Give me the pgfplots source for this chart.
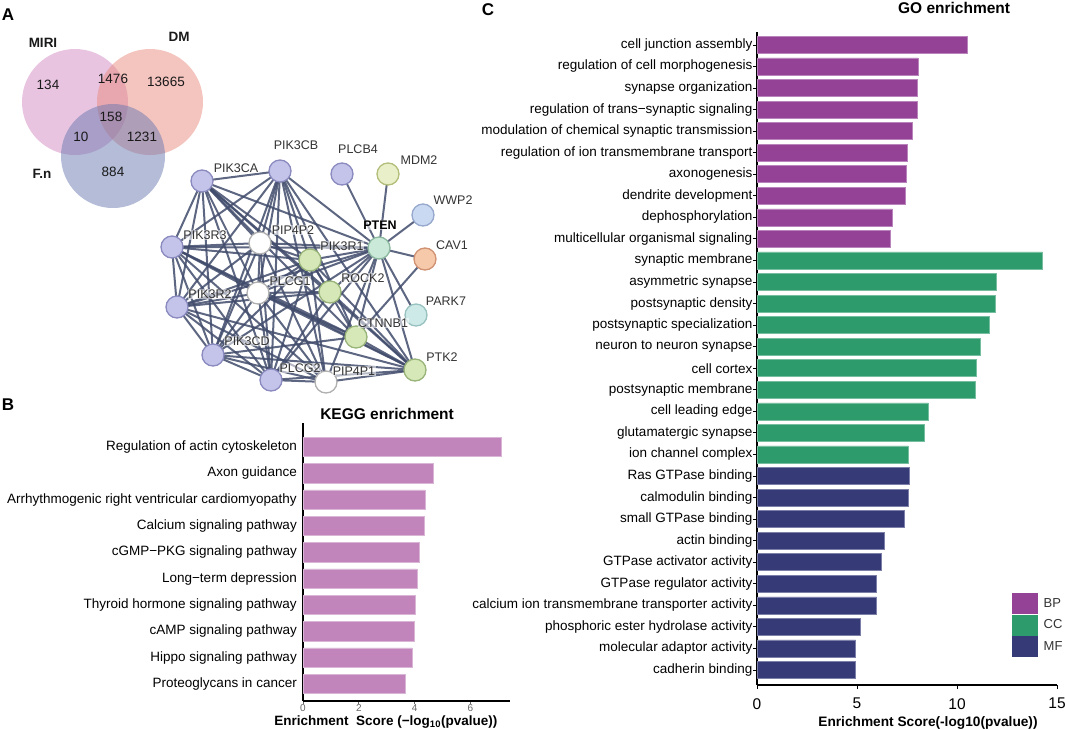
\documentclass[border=0pt]{standalone}
\usepackage{fontspec}
\setmainfont{Liberation Sans}
\usepackage{pgfplots}
\pgfplotsset{compat=1.18}
\newcommand\fs[1]{\fontsize{#1}{#1}\selectfont}

\definecolor{bpc}{HTML}{944296}
\definecolor{ccc}{HTML}{2E9B6D}
\definecolor{mfc}{HTML}{363A77}
\definecolor{keggc}{HTML}{C285BB}
\definecolor{edgec}{HTML}{414C6C}
\definecolor{miri}{HTML}{D189C1}
\definecolor{dm}{HTML}{E9897F}
\definecolor{fn}{HTML}{6979B1}
% node colours (fill / border)
\definecolor{lavf}{HTML}{C4C4EA}\definecolor{lavd}{HTML}{8A8ABF}
\definecolor{whtf}{HTML}{FFFFFF}\definecolor{whtd}{HTML}{B0B0B0}
\definecolor{grnf}{HTML}{D6E8B8}\definecolor{grnd}{HTML}{98B478}
\definecolor{ylwf}{HTML}{E9EFC8}\definecolor{ylwd}{HTML}{B2BE7A}
\definecolor{bluf}{HTML}{C9D9F1}\definecolor{blud}{HTML}{96A8CC}
\definecolor{mntf}{HTML}{CBE9D9}\definecolor{mntd}{HTML}{8CB8A0}
\definecolor{pchf}{HTML}{F5C9A9}\definecolor{pchd}{HTML}{D09272}
\definecolor{cynf}{HTML}{CDE9E8}\definecolor{cynd}{HTML}{98C2C0}

% network node positions (pixels)
\def\N#1#2#3{\expandafter\def\csname nx#1\endcsname{#2}\expandafter\def\csname ny#1\endcsname{#3}}
\N{PIK3CA}{202}{181}
\N{PIK3CB}{280}{171}
\N{PLCB4}{342}{174}
\N{MDM2}{388}{174}
\N{WWP2}{423}{215}
\N{PTEN}{379}{248}
\N{CAV1}{425}{259}
\N{PARK7}{416}{315}
\N{PTK2}{415}{370}
\N{CTNNB1}{356}{337}
\N{ROCK2}{330}{292}
\N{PIK3R1}{310}{260}
\N{PIP4P2}{260}{243}
\N{PIK3R3}{172}{247}
\N{PLCG1}{258}{293}
\N{PIK3R2}{177}{307}
\N{PIK3CD}{213}{355}
\N{PLCG2}{271}{380}
\N{PIP4P1}{326}{382}

\pgfplotsset{pixelaxis/.style={at={(0pt,0pt)}, anchor=north west, width=1065pt, height=730pt,
  scale only axis, xmin=0, xmax=1065, ymin=0, ymax=730, y dir=reverse,
  hide axis, clip=false}}

\begin{document}
\begin{tikzpicture}
\path[use as bounding box] (0pt,0pt) rectangle (1065pt,-730pt);

% ---------- panel A (Venn + network), shapes ----------
\begin{axis}[pixelaxis]
\addplot[miri, only marks, mark=*, mark size=53, mark options={draw opacity=0, fill opacity=0.5}] coordinates {(75,102)};
\addplot[dm, only marks, mark=*, mark size=53, mark options={draw opacity=0, fill opacity=0.5}] coordinates {(150,102)};
\addplot[fn, only marks, mark=*, mark size=52, mark options={draw opacity=0, fill opacity=0.5}] coordinates {(113,156)};

\foreach \a/\b in {PTEN/PLCB4, PTEN/MDM2, PTEN/WWP2, PTEN/CAV1, PTEN/PARK7, PTEN/PTK2,
  PTEN/CTNNB1, PTEN/ROCK2, PTEN/PIK3R1, PTEN/PIP4P2, PTEN/PIK3R3, PTEN/PIK3CA, PTEN/PIK3CB,
  PTEN/PLCG1, PTEN/PIK3R2, PTEN/PIK3CD, PTEN/PLCG2, PTEN/PIP4P1,
  PIK3CA/PIK3CB, PIK3CA/PIK3R3, PIK3CA/PIK3R2, PIK3CA/PIK3CD, PIK3CA/PLCG2, PIK3CA/PIK3R1,
  PIK3CA/PIP4P2, PIK3CA/PLCG1, PIK3CA/ROCK2, PIK3CA/CTNNB1, PIK3CA/PTK2,
  PIK3CB/PIK3R3, PIK3CB/PIK3R2, PIK3CB/PIK3CD, PIK3CB/PLCG2, PIK3CB/PIK3R1, PIK3CB/PIP4P2,
  PIK3CB/PLCG1, PIK3CB/PIP4P1, PIK3CB/PTK2, PIK3CB/CTNNB1,
  PIK3R3/PIK3R2, PIK3R3/PIK3CD, PIK3R3/PLCG2, PIK3R3/PIK3R1, PIK3R3/PIP4P2, PIK3R3/PLCG1,
  PIK3R3/PIP4P1, PIK3R3/CTNNB1, PIK3R3/PTK2,
  PIK3R2/PIK3CD, PIK3R2/PLCG2, PIK3R2/PIK3R1, PIK3R2/PIP4P2, PIK3R2/PLCG1, PIK3R2/PIP4P1,
  PIK3R2/ROCK2, PIK3R2/PTK2,
  PIK3CD/PLCG2, PIK3CD/PIK3R1, PIK3CD/PIP4P2, PIK3CD/PLCG1, PIK3CD/PIP4P1, PIK3CD/PTK2, PIK3CD/CTNNB1,
  PLCG2/PIK3R1, PLCG2/PIP4P2, PLCG2/PLCG1, PLCG2/PIP4P1, PLCG2/PTK2, PLCG2/ROCK2,
  PIK3R1/PIP4P2, PIK3R1/PLCG1, PIK3R1/ROCK2, PIK3R1/CTNNB1, PIK3R1/PTK2, PIK3R1/PIP4P1,
  PIP4P2/PLCG1, PIP4P2/PIP4P1, PLCG1/PIP4P1, PLCG1/PTK2, PLCG1/CTNNB1, PLCG1/ROCK2,
  ROCK2/PTK2, CTNNB1/PTK2, PIP4P1/PTK2, CAV1/CTNNB1}{
  \edef\tmp{\noexpand\addplot[edgec, line width=2pt, opacity=0.85, no marks]
    coordinates {(\csname nx\a\endcsname,\csname ny\a\endcsname)
                 (\csname nx\b\endcsname,\csname ny\b\endcsname)};}
  \tmp
}

\foreach \n/\c in {PIK3CA/lav, PIK3CB/lav, PLCB4/lav, PIK3R3/lav, PIK3R2/lav, PIK3CD/lav,
  PLCG2/lav, PIP4P2/wht, PLCG1/wht, PIP4P1/wht, PIK3R1/grn, ROCK2/grn, CTNNB1/grn, PTK2/grn,
  MDM2/ylw, WWP2/blu, PTEN/mnt, CAV1/pch, PARK7/cyn}{
  \edef\tmp{\noexpand\addplot[only marks, mark=*, mark size=11,
    mark options={fill=\c f, draw=\c d, line width=1.3pt}]
    coordinates {(\csname nx\n\endcsname,\csname ny\n\endcsname)};}
  \tmp
}
\end{axis}

% ---------- panel A, texts on top ----------
\begin{axis}[pixelaxis]
\begin{scope}[every node/.style={font=\fs{12.5}, text=black!80, fill=white,
    fill opacity=0.55, text opacity=1, inner sep=0.5pt}]
\node at (axis cs:236,168) {PIK3CA};
\node at (axis cs:296,145) {PIK3CB};
\node at (axis cs:358,149) {PLCB4};
\node at (axis cs:419,160) {MDM2};
\node at (axis cs:453,200) {WWP2};
\node[font=\fs{12.5}\bfseries, text=black] at (axis cs:380,225) {PTEN};
\node at (axis cs:452,245) {CAV1};
\node at (axis cs:446,301) {PARK7};
\node at (axis cs:442,357) {PTK2};
\node at (axis cs:383,323) {CTNNB1};
\node at (axis cs:363,278) {ROCK2};
\node at (axis cs:342,246) {PIK3R1};
\node at (axis cs:293,230) {PIP4P2};
\node at (axis cs:205,235) {PIK3R3};
\node at (axis cs:290,281) {PLCG1};
\node at (axis cs:210,294) {PIK3R2};
\node at (axis cs:247,341) {PIK3CD};
\node at (axis cs:300,368) {PLCG2};
\node at (axis cs:354,371) {PIP4P1};
\end{scope}

\begin{scope}[every node/.style={font=\fs{13.5}, text=black!90}]
\node[font=\fs{13.5}\bfseries] at (axis cs:43,43) {MIRI};
\node[font=\fs{13.5}\bfseries] at (axis cs:179,37) {DM};
\node[font=\fs{13.5}\bfseries] at (axis cs:42,174) {F.n};
\node at (axis cs:48,85) {134};
\node at (axis cs:113,79) {1476};
\node at (axis cs:166,82) {13665};
\node at (axis cs:111,117) {158};
\node at (axis cs:81,137) {10};
\node at (axis cs:142,137) {1231};
\node at (axis cs:113,172) {884};
\end{scope}

\node[font=\fs{17}\bfseries] at (axis cs:8,15) {A};
\node[font=\fs{17}\bfseries] at (axis cs:8,405) {B};
\node[font=\fs{17}\bfseries] at (axis cs:488,10) {C};
\end{axis}

% ---------- panel B (KEGG) ----------
\begin{axis}[at={(303pt,-423pt)}, anchor=north west, width=207pt, height=278pt,
  scale only axis, xmin=0, xmax=7.42, ymin=-0.65, ymax=9.91,
  xbar, bar width=19.3pt,
  axis x line*=bottom, axis y line*=left,
  axis line style={line width=1.8pt, black},
  xtick={0,2,4,6}, ytick={0,...,9},
  tick align=outside, major tick length=3pt,
  ytick style={draw=none}, xtick style={black!60, line width=0.6pt},
  /pgf/number format/assume math mode=true,
  xticklabel style={font=\fs{10}, text=black!60, inner sep=0.5pt},
  yticklabel style={font=\fs{13.5}, inner sep=0pt, xshift=-3pt},
  yticklabels={Proteoglycans in cancer, Hippo signaling pathway, cAMP signaling pathway,
    Thyroid hormone signaling pathway, Long−term depression, cGMP−PKG signaling pathway,
    Calcium signaling pathway, Arrhythmogenic right ventricular cardiomyopathy,
    Axon guidance, Regulation of actin cytoskeleton},
  title={KEGG enrichment},
  title style={font=\fs{15.5}\bfseries, at={(axis description cs:0.406,1)}, anchor=base, yshift=-2pt},
  xlabel={Enrichment\ \ Score (−log\textsubscript{10}(pvalue))},
  xlabel style={font=\fs{13.5}\bfseries, at={(axis description cs:0.40,0)}, anchor=base, yshift=-24pt},
  clip=false]
\addplot[fill=keggc, draw=keggc!60!white, line width=0.5pt, bar shift=0pt] coordinates {
  (3.67,0) (3.91,1) (3.97,2) (4.03,3) (4.09,4) (4.18,5) (4.33,6) (4.37,7) (4.66,8) (7.10,9)};
\end{axis}

% ---------- panel C (GO) ----------
\begin{axis}[at={(757pt,-32pt)}, anchor=north west, width=300pt, height=653pt,
  scale only axis, xmin=0, xmax=15, ymin=-0.7, ymax=29.6,
  xbar, bar width=17pt,
  axis x line*=bottom, axis y line*=left,
  axis line style={line width=1.8pt, black},
  xtick={0,5,10,15}, ytick={0,...,29},
  tick align=outside, major tick length=4pt,
  tick style={black, line width=0.8pt},
  /pgf/number format/assume math mode=true,
  xticklabel style={font=\fs{15.5}, inner sep=2pt, yshift=-7pt},
  yticklabel style={font=\fs{13.5}, inner sep=0.5pt},
  yticklabels={cadherin binding, molecular adaptor activity, phosphoric ester hydrolase activity,
    calcium ion transmembrane transporter activity, GTPase regulator activity,
    GTPase activator activity, actin binding, small GTPase binding, calmodulin binding,
    Ras GTPase binding, ion channel complex, glutamatergic synapse, cell leading edge,
    postsynaptic membrane, cell cortex, neuron to neuron synapse, postsynaptic specialization,
    postsynaptic density, asymmetric synapse, synaptic membrane,
    multicellular organismal signaling, dephosphorylation, dendrite development, axonogenesis,
    regulation of ion transmembrane transport, modulation of chemical synaptic transmission,
    regulation of trans−synaptic signaling, synapse organization,
    regulation of cell morphogenesis, cell junction assembly},
  title={GO enrichment},
  title style={font=\fs{15.5}\bfseries, at={(axis description cs:0.657,1)}, anchor=base, yshift=12pt},
  xlabel={Enrichment Score(-log10(pvalue))},
  xlabel style={font=\fs{13.7}\bfseries, at={(axis description cs:0.57,0)}, anchor=base, yshift=-41pt},
  legend style={draw=none, fill=none, inner sep=0pt, row sep=1pt, font=\fs{13},
    text=black!80, at={(axis description cs:0.85,0.1409)}, anchor=north west,
    cells={anchor=west}, /tikz/every odd column/.append style={column sep=4pt}},
  clip=false]
\addplot[fill=bpc, draw=bpc!65!white, line width=0.5pt, bar shift=0pt,
  legend image code/.code={\fill[bpc] (0pt,-10pt) rectangle (25pt,10pt);}] coordinates {
  (10.50,29) (8.05,28) (8.00,27) (8.00,26) (7.75,25) (7.50,24) (7.48,23) (7.43,22) (6.77,21) (6.68,20)};
\addlegendentry{BP}
\addplot[fill=ccc, draw=ccc!65!white, line width=0.5pt, bar shift=0pt,
  legend image code/.code={\fill[ccc] (0pt,-10pt) rectangle (25pt,10pt);}] coordinates {
  (14.28,19) (11.95,18) (11.92,17) (11.62,16) (11.15,15) (10.98,14) (10.93,13) (8.57,12) (8.37,11) (7.57,10)};
\addlegendentry{CC}
\addplot[fill=mfc, draw=mfc!65!white, line width=0.5pt, bar shift=0pt,
  legend image code/.code={\fill[mfc] (0pt,-10pt) rectangle (25pt,10pt);}] coordinates {
  (7.62,9) (7.57,8) (7.35,7) (6.35,6) (6.22,5) (5.98,4) (5.98,3) (5.15,2) (4.93,1) (4.90,0)};
\addlegendentry{MF}
\end{axis}
\end{tikzpicture}
\end{document}
